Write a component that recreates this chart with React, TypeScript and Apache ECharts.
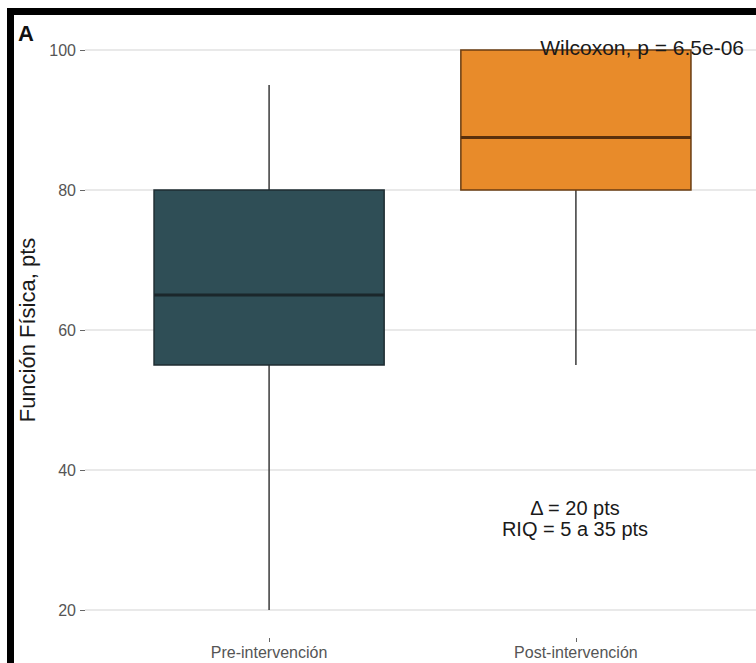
import React, { useEffect, useRef } from "react";
import * as echarts from "echarts";

const categories = ["Pre-intervención", "Post-intervención"];
const whiskerLow = [20, 55];
const q1 = [55, 80];
const median = [65, 87.5];
const q3 = [80, 100];
const whiskerHigh = [95, 100];
const yTicks = [20, 40, 60, 80, 100];
const xTicks = [1, 2];

const fills = ["#2f4e56", "#e88b2a"];
const outlines = ["#1f2d32", "#6a3d12"];
const medianColors = ["#1b272b", "#5a300c"];

export default function App() {
  const ref = useRef<HTMLDivElement>(null);
  useEffect(() => {
    if (!ref.current) return;
    const chart = echarts.init(ref.current, undefined, { renderer: "svg" });
    const data = categories.map((_, i) => [i + 1, whiskerLow[i], q1[i], median[i], q3[i], whiskerHigh[i], i]);
    const font = "'Liberation Sans', Arial, sans-serif";
    chart.setOption({
      animation: false,
      backgroundColor: "#ffffff",
      textStyle: { fontFamily: font },
      grid: { left: 85, right: -4, top: 22, bottom: 25, containLabel: false, outerBoundsMode: "none" },
      xAxis: {
        type: "value",
        min: 0.4,
        max: 2.6,
        axisLine: { show: false },
        splitLine: { show: false },
        axisTick: { show: true, customValues: xTicks, length: 4, lineStyle: { color: "#666", width: 1 } },
        axisLabel: {
          customValues: xTicks,
          formatter: (v: number) => categories[Math.round(v) - 1] ?? "",
          color: "#555555",
          fontSize: 16,
          lineHeight: 17,
          margin: 6,
          fontFamily: font,
        },
      },
      yAxis: {
        type: "value",
        min: 16,
        max: 104,
        axisLine: { show: false },
        axisTick: { show: true, customValues: yTicks, length: 5, lineStyle: { color: "#666", width: 1 } },
        axisLabel: { customValues: yTicks, color: "#555555", fontSize: 16, margin: 9, fontFamily: font },
        splitLine: { show: true, lineStyle: { color: "#e2e2e2", width: 1.5 } },
      },
      series: [
        {
          type: "custom",
          data,
          clip: false,
          renderItem: (params: any, api: any) => {
            const x = api.value(0);
            const i = api.value(6);
            const lo = api.coord([x, api.value(1)]);
            const b1 = api.coord([x, api.value(2)]);
            const md = api.coord([x, api.value(3)]);
            const b3 = api.coord([x, api.value(4)]);
            const hi = api.coord([x, api.value(5)]);
            const w = api.size([0.75, 0])[0];
            const cx = lo[0];
            return {
              type: "group",
              children: [
                { type: "line", shape: { x1: cx, y1: b1[1], x2: cx, y2: lo[1] }, style: { stroke: "#3a3a3a", lineWidth: 1.5 } },
                { type: "line", shape: { x1: cx, y1: b3[1], x2: cx, y2: hi[1] }, style: { stroke: "#3a3a3a", lineWidth: 1.5 } },
                {
                  type: "rect",
                  shape: { x: cx - w / 2, y: b3[1], width: w, height: b1[1] - b3[1] },
                  style: { fill: fills[i], stroke: outlines[i], lineWidth: 1.5 },
                },
                { type: "line", shape: { x1: cx - w / 2, y1: md[1], x2: cx + w / 2, y2: md[1] }, style: { stroke: medianColors[i], lineWidth: 3 } },
              ],
            };
          },
        },
      ],
      graphic: [
        { type: "rect", shape: { x: 7, y: 8, width: 760, height: 7 }, style: { fill: "#000" }, z: 100 },
        { type: "rect", shape: { x: 7, y: 8, width: 7, height: 660 }, style: { fill: "#000" }, z: 100 },
        { type: "text", x: 18, y: 22, style: { text: "A", font: `bold 22px ${font}`, fill: "#111" }, z: 100 },
        {
          type: "text",
          x: 27,
          y: 330,
          rotation: Math.PI / 2,
          style: { text: "Función Física, pts", font: `22px ${font}`, fill: "#1a1a1a", align: "center", verticalAlign: "middle" },
          z: 100,
        },
        {
          type: "text",
          x: 744,
          y: 47,
          style: { text: "Wilcoxon, p = 6.5e-06", font: `21px ${font}`, fill: "#1a1a1a", align: "right", verticalAlign: "middle" },
          z: 100,
        },
        {
          type: "text",
          x: 575,
          y: 508,
          style: { text: "Δ = 20 pts", font: `20px ${font}`, fill: "#1a1a1a", align: "center", verticalAlign: "middle" },
          z: 100,
        },
        {
          type: "text",
          x: 575,
          y: 529,
          style: { text: "RIQ = 5 a 35 pts", font: `20px ${font}`, fill: "#1a1a1a", align: "center", verticalAlign: "middle" },
          z: 100,
        },
      ],
    });
    return () => chart.dispose();
  }, []);
  return <div ref={ref} style={{ position: "absolute", left: 0, top: 0, width: 756, height: 663 }} />;
}
